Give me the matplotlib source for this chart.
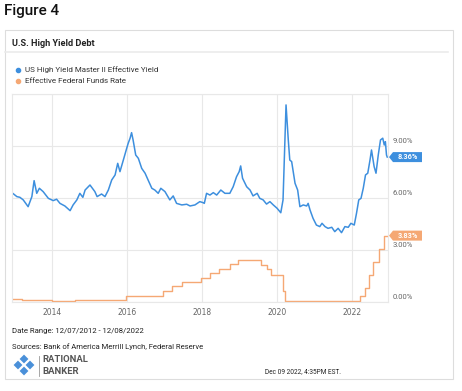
import matplotlib.pyplot as plt
from matplotlib.patches import Polygon, Rectangle
from matplotlib.lines import Line2D

W, H = 462, 391

# High yield effective yield (decimal years, %)
hy_t = [2012.93, 2012.95, 2013.06, 2013.14, 2013.23, 2013.36, 2013.46, 2013.52, 2013.59, 2013.66,
        2013.76, 2013.90, 2014.03, 2014.12, 2014.21, 2014.34, 2014.48, 2014.56, 2014.66, 2014.74,
        2014.82, 2014.88, 2015.01, 2015.14, 2015.20, 2015.32, 2015.41, 2015.50, 2015.59, 2015.68,
        2015.75, 2015.81, 2015.90, 2015.99, 2016.03, 2016.08, 2016.12, 2016.16, 2016.23, 2016.30,
        2016.39, 2016.48, 2016.56, 2016.66, 2016.74, 2016.83, 2016.90, 2017.01, 2017.14, 2017.23,
        2017.32, 2017.46, 2017.59, 2017.68, 2017.81, 2017.94, 2018.03, 2018.06, 2018.12, 2018.21,
        2018.30, 2018.39, 2018.50, 2018.61, 2018.74, 2018.83, 2018.92, 2018.99, 2019.03, 2019.08,
        2019.19, 2019.28, 2019.36, 2019.47, 2019.54, 2019.63, 2019.72, 2019.81, 2019.90, 2020.00,
        2020.10, 2020.16, 2020.24, 2020.30, 2020.34, 2020.39, 2020.48, 2020.55, 2020.61, 2020.70,
        2020.79, 2020.83, 2020.88, 2020.96, 2021.05, 2021.14, 2021.20, 2021.28, 2021.36, 2021.46,
        2021.54, 2021.63, 2021.72, 2021.81, 2021.90, 2021.97, 2022.06, 2022.12, 2022.18, 2022.24,
        2022.30, 2022.36, 2022.42, 2022.48, 2022.52, 2022.59, 2022.64, 2022.70, 2022.76, 2022.82,
        2022.86, 2022.89, 2022.92, 2022.94]
hy_v = [6.20, 6.27, 6.08, 6.04, 5.89, 5.50, 6.08, 7.00, 6.27, 6.56,
        6.37, 5.98, 5.85, 5.93, 5.69, 5.54, 5.27, 5.60, 5.89, 6.27,
        6.04, 6.46, 6.75, 6.37, 6.08, 6.23, 6.08, 6.46, 7.04, 7.33,
        8.00, 7.52, 8.19, 8.87, 9.16, 9.45, 9.77, 9.35, 8.48, 8.29,
        7.71, 7.43, 7.04, 6.56, 6.46, 6.27, 6.56, 6.37, 5.89, 6.12,
        5.69, 5.60, 5.64, 5.54, 5.60, 5.79, 5.73, 5.69, 6.27, 6.17,
        6.31, 6.17, 6.46, 6.27, 6.27, 6.65, 7.23, 7.52, 7.85, 7.14,
        6.65, 6.46, 6.12, 6.27, 5.98, 5.89, 5.65, 5.79, 5.60, 5.41,
        5.15, 5.89, 11.37, 9.35, 8.19, 8.10, 6.85, 6.46, 5.50, 5.60,
        5.54, 5.69, 5.31, 4.83, 4.44, 4.35, 4.54, 4.35, 4.25, 4.31,
        4.06, 4.25, 4.00, 4.35, 4.31, 4.54, 4.44, 5.12, 5.89, 5.98,
        6.56, 7.33, 7.43, 8.19, 8.77, 7.81, 7.43, 8.48, 9.35, 9.45,
        9.06, 9.25, 8.48, 8.36]

# Effective federal funds rate (step changes)
ff_t = [2012.93, 2013.20, 2013.55, 2014.00, 2014.60, 2015.20, 2015.96, 2016.96, 2017.21, 2017.46,
        2017.96, 2018.22, 2018.46, 2018.74, 2018.97, 2019.58, 2019.72, 2019.83, 2020.17, 2020.21,
        2022.21, 2022.34, 2022.46, 2022.57, 2022.72, 2022.84, 2022.94]
ff_v = [0.16, 0.12, 0.09, 0.07, 0.09, 0.12, 0.37, 0.66, 0.91, 1.16,
        1.41, 1.68, 1.91, 2.18, 2.40, 2.13, 1.90, 1.55, 0.65, 0.08,
        0.33, 0.83, 1.58, 2.33, 3.08, 3.83, 3.83]

year_ticks = [2014, 2016, 2018, 2020, 2022]
pct_ticks = [0, 3, 6, 9]

blue = "#3d8fde"
orange = "#f5a874"
grid_c = "#e8e8e8"
txt_c = "#333333"


def fx(x):
    return x / W


def fy(y):
    return 1 - y / H


fig = plt.figure(figsize=(W / 100, H / 100), dpi=100)

# card frame
fig.patches.append(Rectangle((fx(5), fy(379)), fx(448), 349 / H, transform=fig.transFigure,
                             fill=False, edgecolor="#dddddd", linewidth=0.8))
fig.lines.append(Line2D([fx(5), fx(448)], [fy(52), fy(52)], transform=fig.transFigure,
                        color="#ebebeb", linewidth=1.2))

fig.text(fx(4), fy(11), "Figure 4", fontsize=11, color="#111111", va="center", family="Roboto",
         weight="medium")
fig.text(fx(12), fy(43), "U.S. High Yield Debt", fontsize=6.6, weight="bold", color="#222222",
         va="center", family="Roboto")

# legend
fig.lines.append(Line2D([fx(18)], [fy(70)], marker="o", markersize=3, color=blue,
                        transform=fig.transFigure))
fig.lines.append(Line2D([fx(18)], [fy(81)], marker="o", markersize=3, color=orange,
                        transform=fig.transFigure))
fig.text(fx(25), fy(70), "US High Yield Master II Effective Yield", fontsize=5.8, color=txt_c,
         va="center", family="Roboto")
fig.text(fx(25), fy(81), "Effective Federal Funds Rate", fontsize=5.8, color=txt_c,
         va="center", family="Roboto")

ax = fig.add_axes([fx(12), fy(302), (388 - 12) / W, (302 - 94) / H])
ax.plot(ff_t, ff_v, color=orange, linewidth=1.0, drawstyle="steps-post")
ax.plot(hy_t, hy_v, color=blue, linewidth=1.1)
ax.set_xlim(2012.93, 2022.96)
ax.set_ylim(0, 12)
ax.set_xticks(year_ticks)
ax.set_xticklabels([str(y) for y in year_ticks])
ax.set_yticks(pct_ticks + [12])
ax.set_yticklabels([])
ax.tick_params(axis="both", length=0, labelsize=5.5, labelcolor="#666666", pad=4)
ax.grid(True, color=grid_c, linewidth=0.8)
for s in ax.spines.values():
    s.set_color(grid_c)
    s.set_linewidth(0.8)
for v in pct_ticks:
    ax.text(1.012, v + 0.1, f"{v:.2f}%", transform=ax.get_yaxis_transform(), fontsize=5.5,
            color="#666666", va="bottom", ha="left", family="Roboto")

# end-value badges
fig.canvas.draw()
for val, col in [(hy_v[-1], blue), (ff_v[-1], orange)]:
    ydisp = ax.transData.transform((ax.get_xlim()[1], val))[1]
    yc = ydisp / fig.dpi / (H / 100)
    h = 5 / H
    pts = [(fx(389), yc), (fx(393), yc + h), (fx(422), yc + h), (fx(422), yc - h), (fx(393), yc - h)]
    fig.patches.append(Polygon(pts, closed=True, transform=fig.transFigure, facecolor=col,
                               edgecolor="none"))
    fig.text(fx(407.5), yc, f"{val:.2f}%", fontsize=5.3, color="white", weight="bold",
             ha="center", va="center", family="Roboto")

fig.text(fx(12), fy(331), "Date Range: 12/07/2012 - 12/08/2022", fontsize=5.6, color="#222222",
         va="center", family="Roboto")
fig.text(fx(12), fy(347), "Sources: Bank of America Merrill Lynch, Federal Reserve", fontsize=5.5,
         color="#222222", va="center", family="Roboto")
fig.text(fx(265), fy(372), "Dec 09 2022, 4:35PM EST.", fontsize=4.7, color="#222222",
         va="center", family="Roboto")

# logo
logo_c = "#4a90d9"
cx, cy = 24, 365
for dx, dy in [(0, -6), (-6, 0), (6, 0), (0, 6)]:
    x0, y0 = cx + dx, cy + dy
    diamond = [(fx(x0), fy(y0 - 5)), (fx(x0 + 5), fy(y0)), (fx(x0), fy(y0 + 5)), (fx(x0 - 5), fy(y0))]
    fig.patches.append(Polygon(diamond, closed=True, transform=fig.transFigure,
                               facecolor=logo_c, edgecolor="white", linewidth=0.6))
fig.lines.append(Line2D([fx(39), fx(39)], [fy(356), fy(376)], transform=fig.transFigure,
                        color="#999999", linewidth=0.6))
fig.text(fx(42), fy(359), "RATIONAL", fontsize=6.8, color="#555555", weight="bold",
         va="center", family="Roboto")
fig.text(fx(42), fy(371), "BANKER", fontsize=6.8, color="#555555", weight="bold",
         va="center", family="Roboto")

fig.savefig("out.png", dpi=100)
